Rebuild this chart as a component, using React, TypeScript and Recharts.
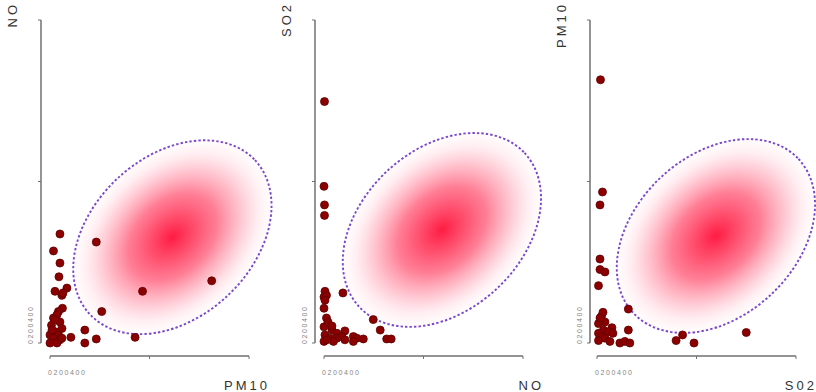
import React from 'react';
import { ScatterChart, Scatter, XAxis, YAxis, ReferenceArea } from 'recharts';

// ---- shared axis ticks ----
const tickValues = [0, 200, 400];
const tickLabels = ['0', '200', '400'];

// ---- Panel 1: NO (y) vs PM10 (x) ----
const p1PM10 = [20, 7, 20, 18, 10, 34, 24, 26, 25, 17, 7, 20, 3, 24, 10, 0, 17, 7, 20, 0, 14, 42, 70, 70, 93, 104, 93, 186, 325, 171, 14, 4, 24, 10];
const p1NO = [135, 114, 99, 82, 64, 68, 59, 62, 43, 39, 31, 26, 22, 18, 14, 10, 10, 6, 4, 0, 0, 7, 16, 0, 5, 39, 125, 64, 77, 7, 35, 16, 6, 29];
const ellipse1 = { cx: 246, cy: 131, rx: 227, ry: 99.6 };

// ---- Panel 2: SO2 (y) vs NO (x) ----
const p2NO = [2, 0, 5, 38, 0, 5, 0, 16, 26, 42, 2, 12, 26, 36, 0, 19, 59, 66, 59, 79, 99, 113, 126, 135, 1, 0, 1, 1, 8, 16, 6, 42, 2];
const p2SO2 = [64, 57, 59, 62, 43, 31, 20, 16, 12, 15, 10, 6, 6, 8, 2, 2, 8, 6, 2, 5, 29, 16, 5, 5, 299, 194, 171, 158, 26, 21, 4, 4, 53];
const ellipse2 = { cx: 237, cy: 140, rx: 227, ry: 99.6 };

// ---- Panel 3: PM10 (y) vs SO2 (x) ----
const p3SO2 = [7, 11, 6, 6, 6, 16, 3, 63, 9, 16, 3, 30, 13, 23, 32, 3, 9, 16, 26, 3, 63, 46, 56, 66, 159, 172, 195, 300, 12, 6];
const p3PM10 = [326, 187, 171, 104, 91, 88, 71, 42, 33, 26, 24, 19, 16, 14, 12, 12, 8, 6, 2, 3, 16, 0, 2, 0, 3, 10, 0, 13, 38, 31];
const ellipse3 = { cx: 239, cy: 132.5, rx: 227, ry: 99.6 };

const FONT = '"Liberation Sans", Arial, sans-serif';

const toPoints = (xs: number[], ys: number[]) => xs.map((x, i) => ({ x, y: ys[i] }));

const panels = [
  { id: 'a', xName: 'PM10', yName: 'NO', data: toPoints(p1PM10, p1NO), ellipse: ellipse1, left: 0, width: 276, mr: 27, padLeft: 9 },
  { id: 'b', xName: 'NO', yName: 'SO2', data: toPoints(p2NO, p2SO2), ellipse: ellipse2, left: 274, width: 276, mr: 27, padLeft: 9 },
  { id: 'c', xName: 'S02', yName: 'PM10', data: toPoints(p3SO2, p3PM10), ellipse: ellipse3, left: 549, width: 267, mr: 20, padLeft: 7 },
];

const XTick = (props: any) => {
  if (props.payload?.value !== tickValues[0]) return <g />;
  return (
    <text x={props.x - 2} y={props.y + 14} fontSize={7} fill="#858585" letterSpacing={1.6} fontFamily={FONT}>
      {tickLabels.join('')}
    </text>
  );
};

const YTick = (props: any) => {
  if (props.payload?.value !== tickValues[0]) return <g />;
  const x = props.x - 3;
  const y = props.y + 1;
  return (
    <text x={x} y={y} fontSize={7} fill="#858585" letterSpacing={1.6} fontFamily={FONT} transform={`rotate(-90 ${x} ${y})`}>
      {tickLabels.join('')}
    </text>
  );
};

const makeXLabel = (text: string) => (lp: any) => {
  const vb = lp.viewBox || {};
  return (
    <text x={vb.x + vb.width + 21} y={vb.y + 34} textAnchor="end" fontSize={13} fill="#333" letterSpacing={3} fontFamily={FONT}>
      {text}
    </text>
  );
};

const makeYLabel = (text: string) => (lp: any) => {
  const vb = lp.viewBox || {};
  const x = vb.x + vb.width - 24;
  const y = 2;
  return (
    <text x={x} y={y} textAnchor="end" fontSize={13} fill="#333" letterSpacing={3} fontFamily={FONT} transform={`rotate(-90 ${x} ${y})`}>
      {text}
    </text>
  );
};

const makeEllipseShape = (id: string) => (p: any) => {
  const w = Math.abs(p.width);
  const h = Math.abs(p.height);
  const x = Math.min(p.x, p.x + p.width);
  const y = Math.min(p.y, p.y + p.height);
  const cx = x + w / 2;
  const cy = y + h / 2;
  const tr = `rotate(-43 ${cx} ${cy})`;
  return (
    <g>
      <defs>
        <radialGradient id={`grad-${id}`} cx="50%" cy="50%" r="50%">
          <stop offset="0%" stopColor="#ff1c43" stopOpacity={1} />
          <stop offset="45%" stopColor="#ff2a50" stopOpacity={0.6} />
          <stop offset="85%" stopColor="#ff6080" stopOpacity={0.12} />
          <stop offset="100%" stopColor="#ff90a8" stopOpacity={0.02} />
        </radialGradient>
      </defs>
      <ellipse cx={cx} cy={cy} rx={w / 2} ry={h / 2} fill={`url(#grad-${id})`} transform={tr} />
      <ellipse cx={cx} cy={cy} rx={w / 2} ry={h / 2} fill="none" stroke="#7c47cc" strokeWidth={1.9} strokeDasharray="2.4 2.1" transform={tr} />
    </g>
  );
};

const Dot = (p: any) => <circle cx={p.cx} cy={p.cy} r={4} fill="#8b0000" stroke="#5e0000" strokeWidth={0.8} />;

export default function App() {
  return (
    <div style={{ position: 'absolute', left: 0, top: 0, width: 816, height: 392, overflow: 'hidden', background: '#ffffff' }}>
      {panels.map((pn) => (
        <div key={pn.id} style={{ position: 'absolute', left: pn.left, top: 0 }}>
          <ScatterChart width={pn.width} height={392} margin={{ top: 20, right: pn.mr, bottom: 6, left: 11 }}>
            <XAxis
              type="number"
              dataKey="x"
              domain={[0, 400]}
              ticks={tickValues}
              padding={{ left: pn.padLeft, right: 0 }}
              height={30}
              tickSize={3}
              tickLine={{ stroke: '#707070' }}
              axisLine={{ stroke: '#707070', strokeWidth: 1.5, strokeDasharray: `0 ${pn.padLeft} 199 400` }}
              tick={<XTick />}
              label={makeXLabel(pn.xName)}
            />
            <YAxis
              type="number"
              dataKey="y"
              domain={[0, 400]}
              ticks={tickValues}
              padding={{ top: 0, bottom: 13 }}
              width={30}
              tickSize={3}
              tickLine={{ stroke: '#707070' }}
              axisLine={{ stroke: '#707070', strokeWidth: 1.5, strokeDasharray: '323 400' }}
              tick={<YTick />}
              label={makeYLabel(pn.yName)}
            />
            <ReferenceArea
              x1={pn.ellipse.cx - pn.ellipse.rx}
              x2={pn.ellipse.cx + pn.ellipse.rx}
              y1={pn.ellipse.cy - pn.ellipse.ry}
              y2={pn.ellipse.cy + pn.ellipse.ry}
              ifOverflow="visible"
              shape={makeEllipseShape(pn.id)}
            />
            <Scatter data={pn.data} isAnimationActive={false} shape={<Dot />} />
          </ScatterChart>
        </div>
      ))}
    </div>
  );
}
